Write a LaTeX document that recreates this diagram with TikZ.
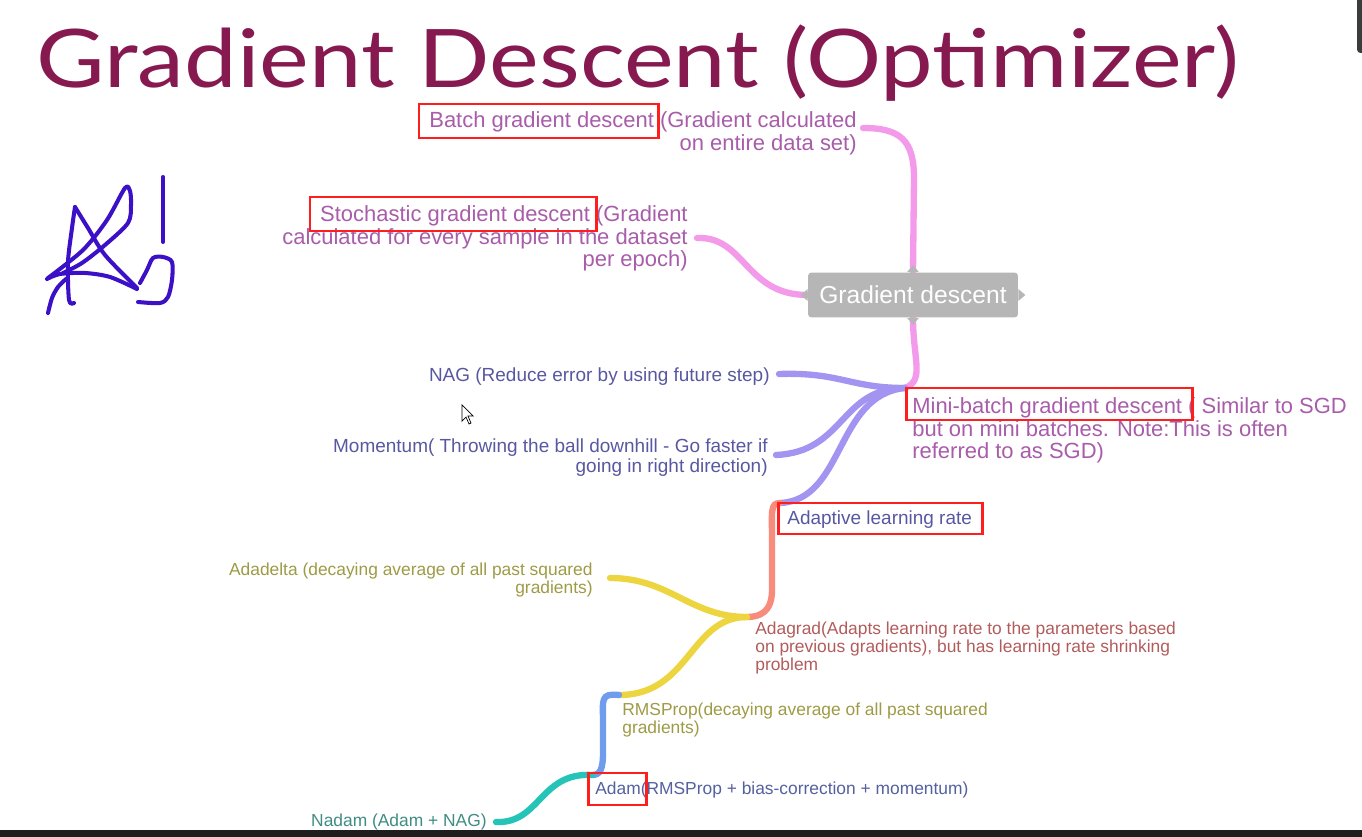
\documentclass[tikz,border=0pt]{standalone}
\usepackage{fontspec}
\setmainfont{Liberation Sans}
\newfontfamily\titlefont{Lato}
\usetikzlibrary{positioning, calc, fit, backgrounds}
\definecolor{titlec}{HTML}{861A50}
\definecolor{gdgrey}{HTML}{B6B6B6}
\definecolor{pinkbr}{HTML}{F39BEA}
\definecolor{purplebr}{HTML}{A394F2}
\definecolor{salmonbr}{HTML}{F78B7C}
\definecolor{yellowbr}{HTML}{ECD53E}
\definecolor{bluebr}{HTML}{6F9CEC}
\definecolor{tealbr}{HTML}{26C4B8}
\definecolor{pinktxt}{HTML}{A85CAA}
\definecolor{purpletxt}{HTML}{5858A0}
\definecolor{salmontxt}{HTML}{B25B5B}
\definecolor{olivetxt}{HTML}{9E9A45}
\definecolor{bluetxt}{HTML}{55609F}
\definecolor{tealtxt}{HTML}{3F8C84}
\definecolor{hlred}{HTML}{FF1E1E}
\definecolor{ink}{HTML}{3B10C6}
\definecolor{barblack}{HTML}{1E1E1E}
\definecolor{bargrey}{HTML}{3C3C3C}
\tikzset{
  branch/.style={draw=#1, line width=3.6pt, line cap=round},
  topic/.style={inner sep=0pt, text=#1},
  lvlone/.style={topic=#1, font=\fontsize{12.5}{13}\selectfont},
  lvltwo/.style={topic=#1, font=\fontsize{10.8}{11.4}\selectfont},
  lvlthree/.style={topic=#1, font=\fontsize{9.9}{10.2}\selectfont},
  gdnode/.style={fill=gdgrey, text=white, rounded corners=2pt, minimum width=4.2cm,
    minimum height=0.9cm, font=\fontsize{14}{16}\selectfont},
  hlbox/.style={draw=hlred, line width=1.7pt, inner sep=0pt},
  scribble/.style={draw=ink, line width=2.3pt, line cap=round, line join=round},
}

\begin{document}
\begin{tikzpicture}[x=0.02cm, y=-0.02cm]
    \useasboundingbox (0,0) rectangle (1362,837);
    \fill[barblack] (0,830) rectangle (1362,837);
    \fill[bargrey, rounded corners=2pt] (1357,-6) rectangle (1368,53);

    \node[anchor=base west, inner sep=0pt, text=titlec] (title) at (36,88)
      {\scalebox{1}[0.86]{\resizebox{24.05cm}{!}{\titlefont Gradient Descent (Optimizer)}}};

    \node[gdnode] (gd) at (913,295) {Gradient descent};
    \fill[gdgrey] (gd.west) ++(0,-6) -- ++(-7,6) -- ++(7,6) -- cycle;
    \fill[gdgrey] (gd.east) ++(0,-6) -- ++(7,6) -- ++(-7,6) -- cycle;
    \fill[gdgrey] (gd.north) ++(-6,0) -- ++(6,-7) -- ++(6,7) -- cycle;
    \fill[gdgrey] (gd.south) ++(-6,0) -- ++(6,7) -- ++(6,-7) -- cycle;

    \coordinate (bat) at (863,128);
    \coordinate (sgd) at (697,238);
    \coordinate (mb) at (905,388);
    \coordinate (nag) at (779,374);
    \coordinate (mom) at (776,455);
    \coordinate (alr) at (780,503);
    \coordinate (adg) at (747,617);
    \coordinate (add) at (610,578);
    \coordinate (rms) at (619,695);
    \coordinate (adam) at (592,775);
    \coordinate (nad) at (496,822);

    \node[lvlone=pinktxt, anchor=north east, align=right] (batch) at (857,111)
      {Batch gradient descent (Gradient calculated\\on entire data set)};
    \node[lvlone=pinktxt, anchor=north east, align=right] (stoch) at (688,205)
      {Stochastic gradient descent (Gradient\\calculated for every sample in the dataset\\per epoch)};
    \node[lvlone=pinktxt, anchor=north west, align=left] (mini) at (912,397)
      {Mini-batch gradient descent ( Similar to SGD\\but on mini batches. Note:This is often\\referred to as SGD)};
    \node[lvltwo=purpletxt, anchor=north east, align=right] (nagtxt) at (770,367)
      {NAG (Reduce error by using future step)};
    \node[lvltwo=purpletxt, anchor=north east, align=right] (momtxt) at (768,438)
      {Momentum( Throwing the ball downhill - Go faster if\\going in right direction)};
    \node[lvltwo=purpletxt, anchor=north west] (adapt) at (787,510) {Adaptive learning rate};
    \node[lvlthree=salmontxt, anchor=north west, align=left] (adagrad) at (755,622)
      {Adagrad(Adapts learning rate to the parameters based\\on previous gradients), but has learning rate shrinking\\problem};
    \node[lvlthree=olivetxt, anchor=north east, align=right] (adadelta) at (593,563)
      {Adadelta (decaying average of all past squared\\gradients)};
    \node[lvlthree=olivetxt, anchor=north west, align=left] (rmsprop) at (622,703)
      {RMSProp(decaying average of all past squared\\gradients)};
    \node[lvlthree=bluetxt, anchor=north west] (adamtxt) at (595,782)
      {Adam(RMSProp + bias-correction + momentum)};
    \node[lvlthree=tealtxt, anchor=north east] (nadam) at (487,814) {Nadam (Adam + NAG)};

    \begin{scope}[on background layer]
      \draw[branch=pinkbr] (gd.north) -- (914,178) .. controls (914,140) and (900,128) .. (bat);
      \draw[branch=pinkbr] (gd.west) .. controls (745,295) and (745,236) .. (sgd);
      \draw[branch=pinkbr] (gd.south) .. controls (913,360) and (925,380) .. (mb);
      \draw[branch=purplebr] (mb) .. controls (850,388) and (840,372) .. (nag);
      \draw[branch=purplebr] (mb) .. controls (840,388) and (845,452) .. (mom);
      \draw[branch=purplebr] (mb) .. controls (835,395) and (845,500) .. (alr);
      \draw[branch=salmonbr] (alr) .. controls (770,503) and (772,512) .. (772,540)
        -- (772,590) .. controls (772,612) and (760,617) .. (adg);
      \draw[branch=yellowbr] (adg) .. controls (690,617) and (670,578) .. (add);
      \draw[branch=yellowbr] (adg) .. controls (690,617) and (690,695) .. (rms);
      \draw[branch=bluebr] (rms) .. controls (600,693) and (603,700) .. (603,722)
        -- (603,752) .. controls (603,770) and (600,775) .. (adam);
      \draw[branch=tealbr] (adam) .. controls (540,772) and (540,824) .. (nad);
    \end{scope}

    \node[hlbox, fit={(419,104) (658,138)}] (hlbatch) {};
    \node[hlbox, fit={(310,197) (596,231)}] (hlsgd) {};
    \node[hlbox, fit={(906,388) (1192,420)}] (hlmini) {};
    \node[hlbox, fit={(778,503) (982,534)}] (hladapt) {};
    \node[hlbox, fit={(588,773) (646,805)}] (hladam) {};

    \draw[scribble] plot[smooth] coordinates {(48,313) (52,298) (58,287) (66,279)};
    \draw[scribble] plot[smooth] coordinates {(47,279) (60,274) (85,273) (110,277) (137,289)};
    \draw[scribble] plot[smooth] coordinates {(74,303) (69,300) (68,262) (72,228) (75,207)};
    \draw[scribble] plot[smooth] coordinates {(75,207) (88,228) (105,255) (137,288)};
    \draw[scribble] plot[smooth] coordinates {(48,278) (83,250) (107,220) (125,188) (130,191)
      (131,205) (128,223) (105,245) (82,263) (63,273)};
    \draw[scribble] (163,177) -- (163,242);
    \draw[scribble] plot[smooth] coordinates {(140,283) (147,270) (153,258) (163,257) (172,262)
      (172,280) (168,297) (160,303) (138,302)};

    \filldraw[fill=white, draw=black, line width=0.4pt] (462,405) -- (462,421) -- (466,417)
      -- (469,424) -- (471,423) -- (468,416) -- (473,416) -- cycle;
\end{tikzpicture}
\end{document}
